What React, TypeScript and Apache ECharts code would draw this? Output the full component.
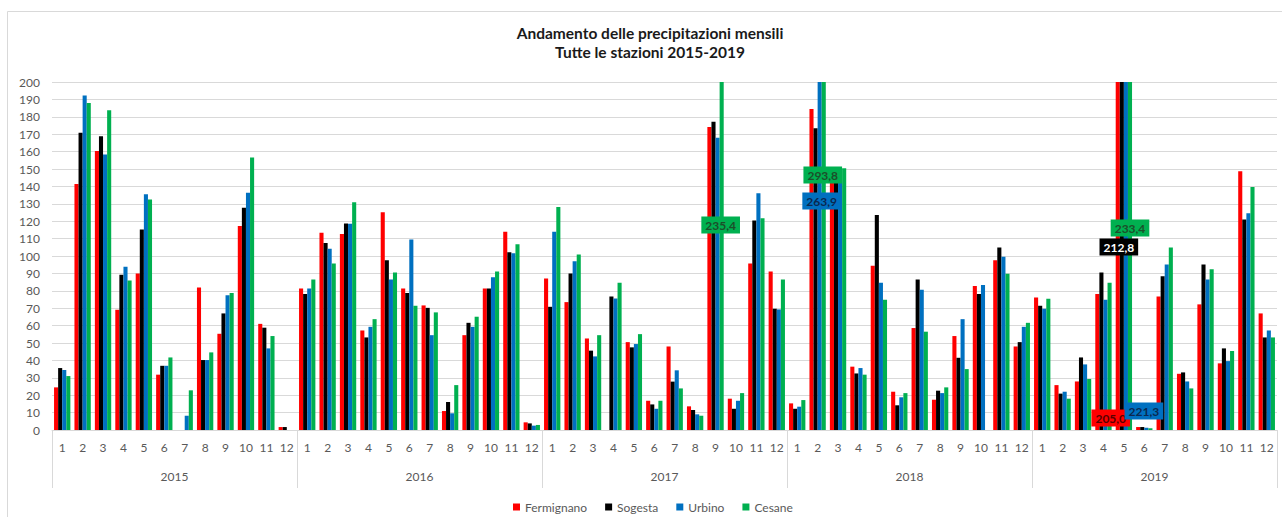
import React, { useEffect, useRef } from "react";
import * as echarts from "echarts";

const years = ["2015", "2016", "2017", "2018", "2019"];
const months = ["1", "2", "3", "4", "5", "6", "7", "8", "9", "10", "11", "12"];
const seriesNames = ["Fermignano", "Sogesta", "Urbino", "Cesane"];
const seriesColors = ["#ff0000", "#000000", "#0070c0", "#00b050"];
const labelTextColors = ["#5a0000", "#ffffff", "#0b2850", "#1c4f2a"];

const fermignano = [
  24.5, 141.4, 160.4, 69.1, 90.0, 31.8, 0, 81.9, 55.3, 117.3, 61.0, 1.7,
  81.3, 113.3, 112.7, 57.2, 125.2, 81.3, 71.6, 10.9, 54.5, 81.3, 113.9, 4.4,
  87.1, 73.5, 52.6, 0, 50.5, 16.8, 48.0, 13.6, 174.2, 18.0, 95.7, 91.1,
  15.3, 184.5, 147.0, 36.4, 94.4, 22.0, 58.6, 17.4, 54.0, 82.7, 97.6, 48.0,
  76.2, 25.8, 27.9, 78.1, 205.0, 1.7, 76.7, 32.3, 72.2, 38.3, 148.7, 67.0,
];
const sogesta = [
  35.6, 170.9, 168.8, 89.2, 115.2, 36.9, 0, 40.2, 67.0, 127.7, 58.8, 1.7,
  78.1, 107.4, 118.7, 53.2, 97.6, 78.7, 70.2, 16.1, 61.6, 81.3, 102.2, 3.8,
  70.8, 90.0, 45.6, 76.7, 47.5, 14.7, 27.8, 11.5, 177.2, 12.2, 120.4, 69.7,
  12.2, 173.4, 146.0, 32.5, 123.6, 14.2, 86.5, 22.6, 41.5, 78.1, 104.9, 50.5,
  71.4, 20.9, 41.7, 90.5, 212.8, 1.7, 88.4, 33.1, 95.1, 46.9, 121.0, 53.2,
];
const urbino = [
  34.5, 192.3, 158.3, 93.8, 135.5, 36.9, 8.2, 40.2, 77.5, 136.3, 46.9, 0,
  81.3, 104.1, 118.5, 59.3, 86.5, 109.5, 54.5, 9.6, 59.3, 87.8, 101.6, 2.5,
  113.9, 97.0, 42.3, 75.6, 49.4, 12.2, 34.3, 9.0, 168.0, 16.8, 136.1, 69.3,
  13.4, 263.9, 149.0, 35.6, 84.6, 18.8, 80.6, 21.2, 63.7, 83.3, 99.5, 59.3,
  69.7, 22.0, 37.7, 74.8, 221.3, 1.3, 95.1, 27.9, 86.5, 39.6, 124.6, 57.2,
];
const cesane = [
  31.0, 188.0, 183.7, 85.9, 132.4, 41.7, 22.8, 44.6, 78.7, 156.6, 54.0, 0,
  86.5, 95.7, 130.9, 63.7, 90.5, 71.4, 67.6, 25.8, 65.1, 91.1, 106.8, 2.9,
  128.2, 100.9, 54.5, 84.6, 55.1, 16.8, 23.9, 8.2, 235.4, 21.2, 121.7, 86.5,
  17.2, 293.8, 150.5, 31.8, 74.8, 21.2, 56.5, 24.5, 35.0, 0, 89.8, 61.6,
  75.4, 18.0, 29.3, 84.6, 233.4, 1.0, 104.9, 23.9, 92.4, 45.4, 139.7, 53.2,
];
const seriesValues = [fermignano, sogesta, urbino, cesane];

// callouts for values above the axis maximum: [series, category index, dx, dy]
const callouts: [number, number, number, number][] = [
  [3, 32, -1, 143],
  [3, 37, -1, 93],
  [2, 37, 2, 119],
  [3, 52, 0, 146],
  [1, 52, -3, 165],
  [0, 52, -7, 336],
  [2, 52, 18, 329],
];

const FONT = "Lato, 'Noto Sans', sans-serif";

export default function App() {
  const ref = useRef<HTMLDivElement>(null);

  useEffect(() => {
    if (!ref.current) return;
    const chart = echarts.init(ref.current, undefined, { renderer: "svg" });

    const categories: string[] = [];
    years.forEach((y) => months.forEach((m) => categories.push(m + "|" + y)));

    const fmt = (v: number) => v.toFixed(1).replace(".", ",");

    const series = seriesValues.map((vals, si) => ({
      name: seriesNames[si],
      type: "bar",
      xAxisIndex: 0,
      yAxisIndex: 0,
      barGap: "0%",
      barCategoryGap: "20%",
      itemStyle: { color: seriesColors[si] },
      data: vals.map((v, i) => {
        const c = callouts.find((k) => k[0] === si && k[1] === i);
        if (!c) return v;
        return {
          value: v,
          label: {
            show: true,
            position: ["50%", c[3]],
            offset: [c[2], 0],
            align: "center",
            verticalAlign: "middle",
            formatter: () => fmt(v),
            backgroundColor: seriesColors[si],
            color: labelTextColors[si],
            fontFamily: FONT,
            fontSize: 12,
            fontWeight: "bold",
            padding: [3, 4, 2, 4],
          },
        };
      }),
    }));

    chart.setOption({
      animation: false,
      textStyle: { fontFamily: FONT },
      graphic: [
        {
          type: "rect",
          shape: { x: 7.5, y: 11.5, width: 1300, height: 530 },
          style: { fill: "none", stroke: "#d9d9d9", lineWidth: 1 },
          silent: true,
          z: -10,
        },
        {
          type: "text",
          x: 650,
          y: 33,
          style: {
            text: "Andamento delle precipitazioni mensili",
            textAlign: "center",
            textVerticalAlign: "middle",
            font: "bold 15.5px " + FONT,
            fill: "#1a1a1a",
          },
        },
        {
          type: "text",
          x: 650,
          y: 52,
          style: {
            text: "Tutte le stazioni 2015-2019",
            textAlign: "center",
            textVerticalAlign: "middle",
            font: "bold 15.5px " + FONT,
            fill: "#1a1a1a",
          },
        },
      ],
      legend: {
        left: 508,
        top: 496,
        itemWidth: 7,
        itemHeight: 7,
        itemGap: 18,
        icon: "rect",
        textStyle: { fontSize: 12, color: "#595959", fontFamily: FONT },
        data: seriesNames,
      },
      grid: { left: 52, right: 5, top: 82, bottom: 87, containLabel: false },
      xAxis: [
        {
          type: "category",
          data: categories,
          position: "bottom",
          boundaryGap: true,
          axisLine: { show: true, lineStyle: { color: "#d9d9d9" } },
          axisTick: { show: false },
          axisLabel: {
            interval: 0,
            margin: 11,
            fontSize: 12,
            color: "#595959",
            fontFamily: FONT,
            formatter: (v: string) => v.split("|")[0],
          },
          splitLine: { show: false },
        },
        {
          type: "category",
          data: years,
          position: "bottom",
          boundaryGap: true,
          axisLine: { show: false },
          axisTick: {
            show: true,
            interval: 0,
            length: 58,
            lineStyle: { color: "#d9d9d9" },
          },
          axisLabel: {
            interval: 0,
            margin: 40,
            fontSize: 12,
            color: "#595959",
            fontFamily: FONT,
          },
          splitLine: { show: false },
        },
      ],
      yAxis: {
        type: "value",
        min: 0,
        max: 200,
        interval: 10,
        axisLine: { show: false },
        axisTick: { show: false },
        axisLabel: { fontSize: 12, color: "#595959", margin: 12, fontFamily: FONT },
        splitLine: { lineStyle: { color: "#d9d9d9" } },
      },
      series,
    });

    return () => chart.dispose();
  }, []);

  return (
    <div
      ref={ref}
      style={{ position: "fixed", left: 0, top: 0, width: 1282, height: 517, background: "#fff" }}
    />
  );
}
